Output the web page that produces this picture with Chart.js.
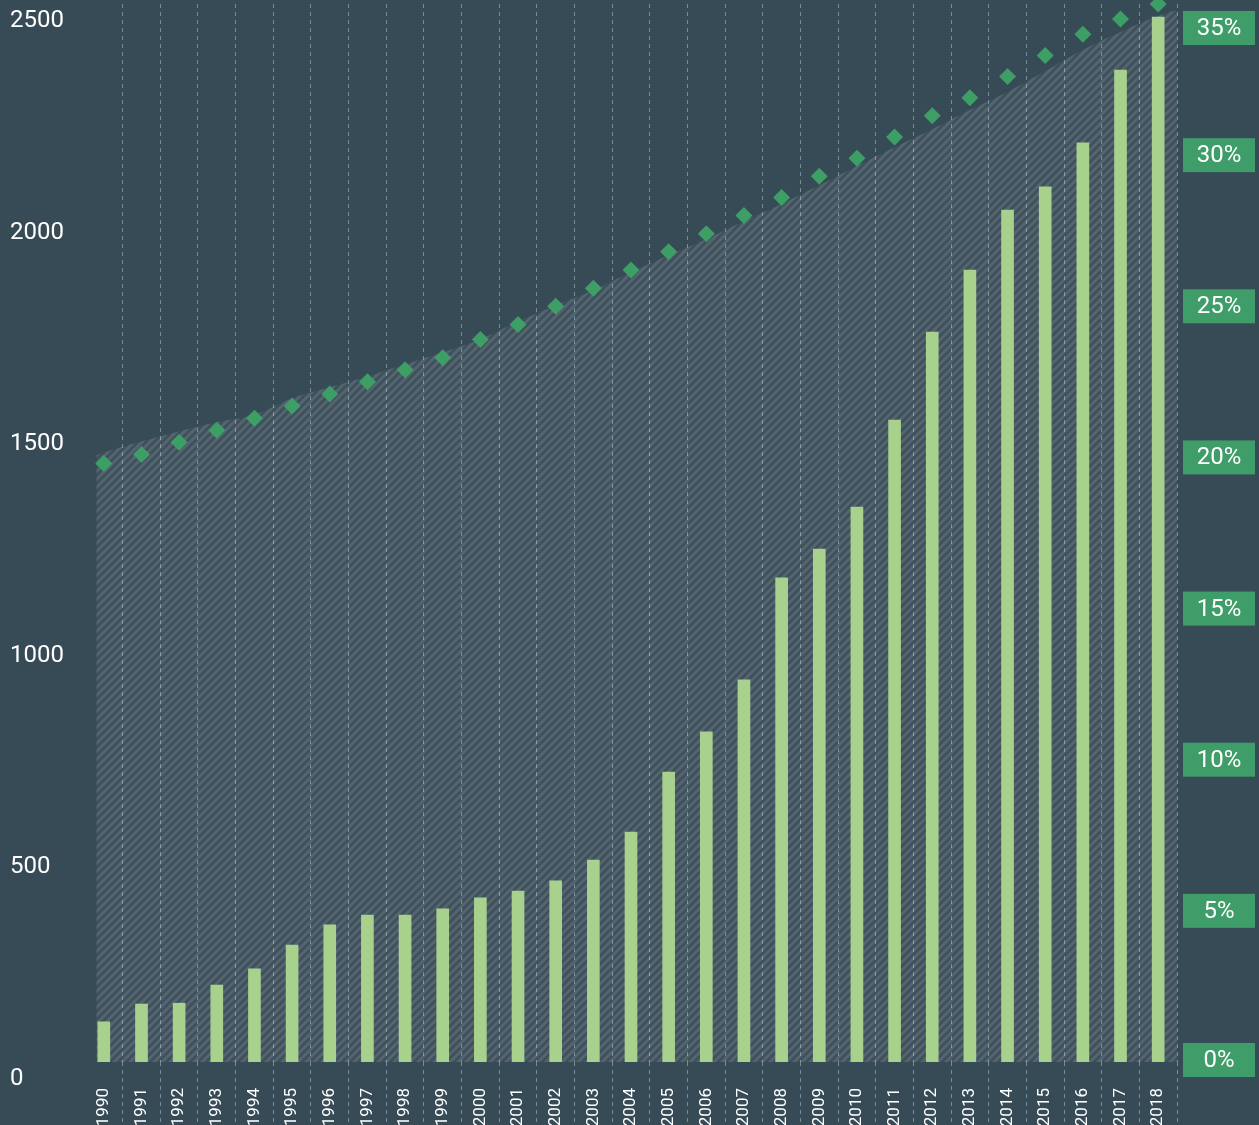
<!DOCTYPE html>
<html>
<head>
<meta charset="utf-8">
<script src="https://cdn.jsdelivr.net/npm/chart.js@4.4.0/dist/chart.umd.min.js"></script>
<style>
  html, body { margin: 0; padding: 0; background: #374b57; }
  #wrap { width: 1259px; height: 1125px; position: relative; }
</style>
</head>
<body>
<div id="wrap"><canvas id="c" width="1259" height="1125"></canvas></div>
<script>
const years = ['1990','1991','1992','1993','1994','1995','1996','1997','1998','1999','2000','2001','2002','2003','2004','2005','2006','2007','2008','2009','2010','2011','2012','2013','2014','2015','2016','2017','2018'];
const counts = [95,137,139,182,220,276,324,347,347,362,388,404,428,477,543,685,780,903,1144,1212,1311,1517,1725,1871,2013,2068,2172,2344,2469];
const shares = [19.8,20.1,20.5,20.9,21.3,21.7,22.1,22.5,22.9,23.3,23.9,24.4,25.0,25.6,26.2,26.8,27.4,28.0,28.6,29.3,29.9,30.6,31.3,31.9,32.6,33.3,34.0,34.5,35.0];
const areaYears = [1989.8,1990,1991,1992,1993,1994,1995,1996,1997,1998,1999,2000,2001,2002,2003,2004,2005,2006,2007,2008,2009,2010,2011,2012,2013,2014,2015,2016,2017,2018,2018.5];
const areaValues = [20.07,20.17,20.53,20.86,21.16,21.42,21.95,22.32,22.68,23.08,23.48,23.91,24.5,25.03,25.53,26.13,26.69,27.22,27.81,28.38,29.0,29.64,30.26,30.86,31.49,32.09,32.78,33.48,34.07,34.6,34.8];
const leftTicks = [0,500,1000,1500,2000,2500];
const rightTicks = [0,5,10,15,20,25,30,35];

const BG = '#374b57';
const GRID = 'rgba(140,165,178,0.75)';
const FONT = 'Roboto, "DejaVu Sans", sans-serif';

function hatch() {
  const c = document.createElement('canvas');
  c.width = 8; c.height = 8;
  const g = c.getContext('2d');
  g.fillStyle = 'rgba(255,255,255,0.03)';
  g.fillRect(0,0,8,8);
  g.strokeStyle = 'rgba(255,255,255,0.12)';
  g.lineWidth = 3;
  g.beginPath();
  g.moveTo(-2,10); g.lineTo(10,-2);
  g.moveTo(-6,6); g.lineTo(6,-6);
  g.moveTo(2,14); g.lineTo(14,2);
  g.stroke();
  return g.createPattern(c, 'repeat');
}

const bgPlugin = {
  id: 'bg',
  beforeDraw(chart) {
    const ctx = chart.ctx;
    ctx.save();
    ctx.fillStyle = BG;
    ctx.fillRect(0,0,chart.width,chart.height);
    ctx.restore();
  }
};

const boxPlugin = {
  id: 'boxes',
  afterDraw(chart) {
    const s = chart.scales.y2;
    const ctx = chart.ctx;
    ctx.save();
    s.ticks.forEach(t => {
      let y = s.getPixelForValue(t.value);
      y = Math.max(y, 28);
      y = Math.min(y, 1060);
      ctx.fillStyle = '#3f9d69';
      ctx.fillRect(s.left + 6, y - 17, 72, 34);
      ctx.fillStyle = '#ffffff';
      ctx.font = '24px ' + FONT;
      ctx.textAlign = 'center';
      ctx.textBaseline = 'middle';
      ctx.fillText(t.value + '%', s.left + 42, y + 1);
    });
    ctx.restore();
  }
};

new Chart(document.getElementById('c'), {
  type: 'bar',
  data: {
    labels: years,
    datasets: [
      {
        type: 'line',
        label: 'trend',
        data: areaYears.map((x,i) => ({x: x, y: areaValues[i]})),
        xAxisID: 'xa',
        yAxisID: 'y2',
        borderWidth: 0,
        pointRadius: 0,
        tension: 0.4,
        fill: 'origin',
        backgroundColor: hatch(),
        order: 3
      },
      {
        type: 'bar',
        label: 'count',
        data: counts,
        xAxisID: 'x',
        yAxisID: 'y',
        backgroundColor: '#a9d18e',
        grouped: false,
        barThickness: 12,
        maxBarThickness: 12,
        order: 2
      },
      {
        type: 'line',
        label: 'share',
        data: shares,
        xAxisID: 'x',
        yAxisID: 'y2',
        showLine: false,
        pointStyle: 'rectRot',
        pointRadius: 8.5,
        pointHoverRadius: 8.5,
        pointBackgroundColor: '#3d9e66',
        pointBorderColor: '#3d9e66',
        pointBorderWidth: 0,
        clip: false,
        order: 1
      }
    ]
  },
  options: {
    responsive: false,
    animation: false,
    events: [],
    layout: { autoPadding: false, padding: { top: 4, left: 10, right: 0, bottom: 0 } },
    plugins: { legend: { display: false }, tooltip: { enabled: false } },
    scales: {
      x: {
        type: 'category',
        offset: true,
        grid: {
          offset: true,
          color: ctx => ctx.index === 0 ? 'rgba(0,0,0,0)' : GRID,
          tickColor: ctx => ctx.index === 0 ? 'rgba(0,0,0,0)' : GRID,
          lineWidth: 1,
          tickLength: 63,
          tickBorderDash: [4,4],
          drawOnChartArea: true
        },
        border: { display: false, dash: [4,4] },
        ticks: {
          autoSkip: false,
          minRotation: 90,
          maxRotation: 90,
          padding: -37,
          color: '#ffffff',
          font: { family: FONT, size: 17 }
        },
        afterFit: s => { s.height = 63; s.paddingLeft = 0; s.paddingRight = 0; }
      },
      xa: {
        type: 'linear',
        display: false,
        min: 1989.5,
        max: 2018.5,
        offset: false
      },
      y: {
        position: 'left',
        min: 0,
        max: 2500,
        afterBuildTicks: s => { s.ticks = leftTicks.map(v => ({value: v})); },
        grid: { display: false },
        border: { display: false },
        ticks: {
          crossAlign: 'far',
          labelOffset: 17,
          color: '#ffffff',
          callback: v => String(v),
          font: { family: FONT, size: 24 }
        },
        afterFit: s => { s.width = 75; s.paddingTop = 0; s.paddingBottom = 0; }
      },
      y2: {
        position: 'right',
        min: 0,
        max: 35,
        afterBuildTicks: s => { s.ticks = rightTicks.map(v => ({value: v})); },
        grid: { display: false },
        border: { display: false },
        ticks: { display: false },
        afterFit: s => { s.width = 82; s.paddingTop = 0; s.paddingBottom = 0; }
      }
    }
  },
  plugins: [bgPlugin, boxPlugin]
});
</script>
</body>
</html>
